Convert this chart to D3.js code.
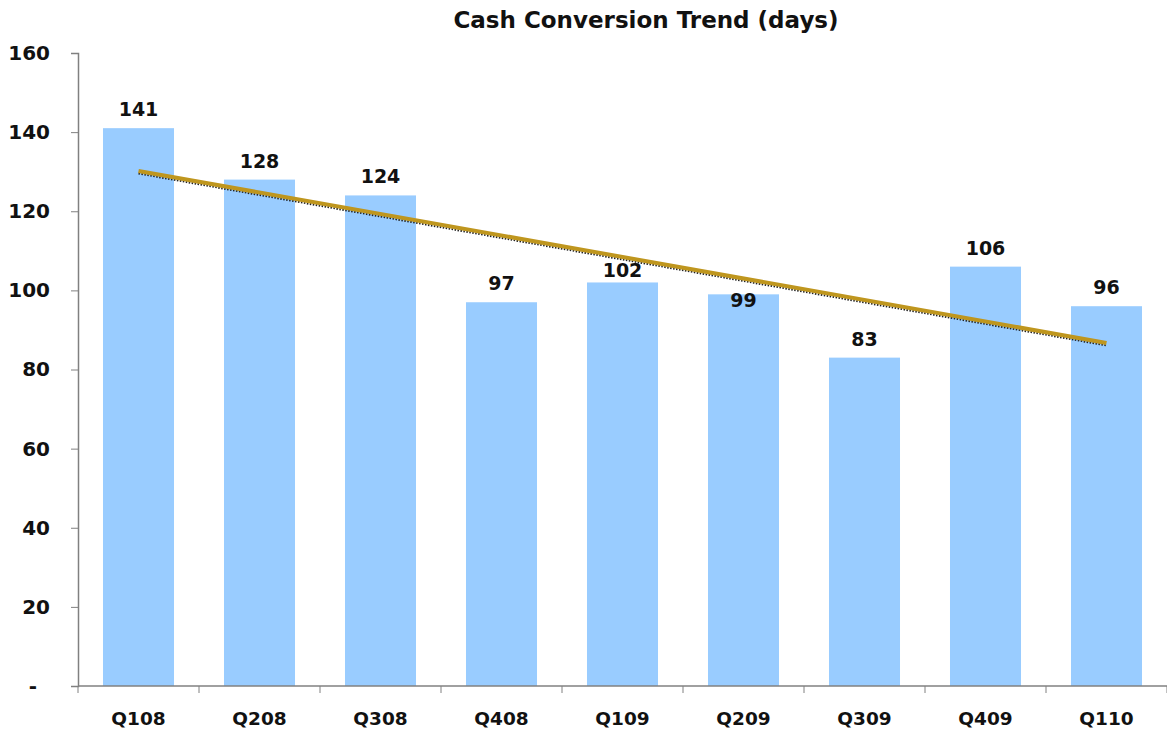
<!DOCTYPE html>
<html>
<head>
<meta charset="utf-8">
<script src="https://cdn.jsdelivr.net/npm/d3@7"></script>
<style>
  html, body { margin: 0; padding: 0; background: #ffffff; }
  svg { display: block; }
  text { font-family: "DejaVu Sans", Verdana, sans-serif; font-weight: bold; fill: #111; }
</style>
</head>
<body>
<script>
// Quarterly cash conversion cycle, in days
const quarters = ["Q108", "Q208", "Q308", "Q408", "Q109", "Q209", "Q309", "Q409", "Q110"];
const days = [141, 128, 124, 97, 102, 99, 83, 106, 96];
const yTicks = [0, 20, 40, 60, 80, 100, 120, 140, 160];
const title = "Cash Conversion Trend (days)";

// Labels nudged to stay clear of the trend line
const labelsInside = new Set(["Q209"]);
const labelsTight = new Set(["Q109"]);

const width = 1167, height = 738;
const margin = { top: 53, right: 0, bottom: 52, left: 78 };

const svg = d3.select("body").append("svg")
  .attr("width", width)
  .attr("height", height);

const x = d3.scaleBand()
  .domain(quarters)
  .range([margin.left, width - margin.right])
  .paddingInner(0.413)
  .paddingOuter(0.2065);

const y = d3.scaleLinear()
  .domain([0, 160])
  .range([height - margin.bottom, margin.top]);

// Title
svg.append("text")
  .attr("x", 646)
  .attr("y", 28)
  .attr("text-anchor", "middle")
  .style("font-size", "23px")
  .text(title);

// Bars
svg.append("g").selectAll("rect")
  .data(quarters)
  .join("rect")
  .attr("x", d => x(d))
  .attr("width", x.bandwidth())
  .attr("y", (d, i) => y(days[i]))
  .attr("height", (d, i) => y(0) - y(days[i]))
  .attr("fill", "#99ccff");

// Y axis (zero shown as an accounting dash)
const yAxis = svg.append("g")
  .attr("transform", `translate(${margin.left},0)`)
  .call(d3.axisLeft(y).tickValues(yTicks).tickSize(7).tickPadding(21)
    .tickFormat(d => d === 0 ? "-" : d));
yAxis.select(".domain").attr("stroke", "#808080").attr("stroke-width", 1.5);
yAxis.selectAll(".tick line").attr("stroke", "#808080");
yAxis.selectAll(".tick text")
  .style("font-size", "20px")
  .attr("fill", "#111")
  .attr("dx", d => d === 0 ? -13 : 0);

// X axis with tick marks at category boundaries
const xAxisG = svg.append("g")
  .attr("transform", `translate(0,${y(0)})`);
xAxisG.append("line")
  .attr("x1", margin.left).attr("x2", width - margin.right)
  .attr("stroke", "#808080").attr("stroke-width", 1.5);
const step = x.step();
const boundaries = d3.range(quarters.length + 1).map(i => margin.left + i * step);
xAxisG.selectAll("line.bound")
  .data(boundaries)
  .join("line")
  .attr("class", "bound")
  .attr("x1", d => d).attr("x2", d => d)
  .attr("y1", 0).attr("y2", 7)
  .attr("stroke", "#808080");
xAxisG.selectAll("text")
  .data(quarters)
  .join("text")
  .attr("x", d => x(d) + x.bandwidth() / 2)
  .attr("y", 39)
  .attr("text-anchor", "middle")
  .style("font-size", "18.5px")
  .text(d => d);

// Linear trend through the quarterly values
const idx = d3.range(days.length);
const mx = d3.mean(idx), my = d3.mean(days);
const slope = d3.sum(idx, i => (i - mx) * (days[i] - my)) / d3.sum(idx, i => (i - mx) ** 2);
const intercept = my - slope * mx;
const trend = [0, days.length - 1].map(i => [x(quarters[i]) + x.bandwidth() / 2, y(intercept + slope * i)]);
const line = d3.line();

svg.append("path")
  .attr("d", line(trend.map(([a, b]) => [a, b + 2.5])))
  .attr("fill", "none")
  .attr("stroke", "#222")
  .attr("stroke-width", 2)
  .attr("stroke-dasharray", "1.5,1.5");
svg.append("path")
  .attr("d", line(trend))
  .attr("fill", "none")
  .attr("stroke", "#bf961e")
  .attr("stroke-width", 4);

// Value labels
svg.append("g").selectAll("text")
  .data(quarters)
  .join("text")
  .attr("x", d => x(d) + x.bandwidth() / 2)
  .attr("y", (d, i) => labelsInside.has(d) ? y(days[i]) + 13
    : labelsTight.has(d) ? y(days[i]) - 5 : y(days[i]) - 12)
  .attr("text-anchor", "middle")
  .style("font-size", "19px")
  .text((d, i) => days[i]);
</script>
</body>
</html>
